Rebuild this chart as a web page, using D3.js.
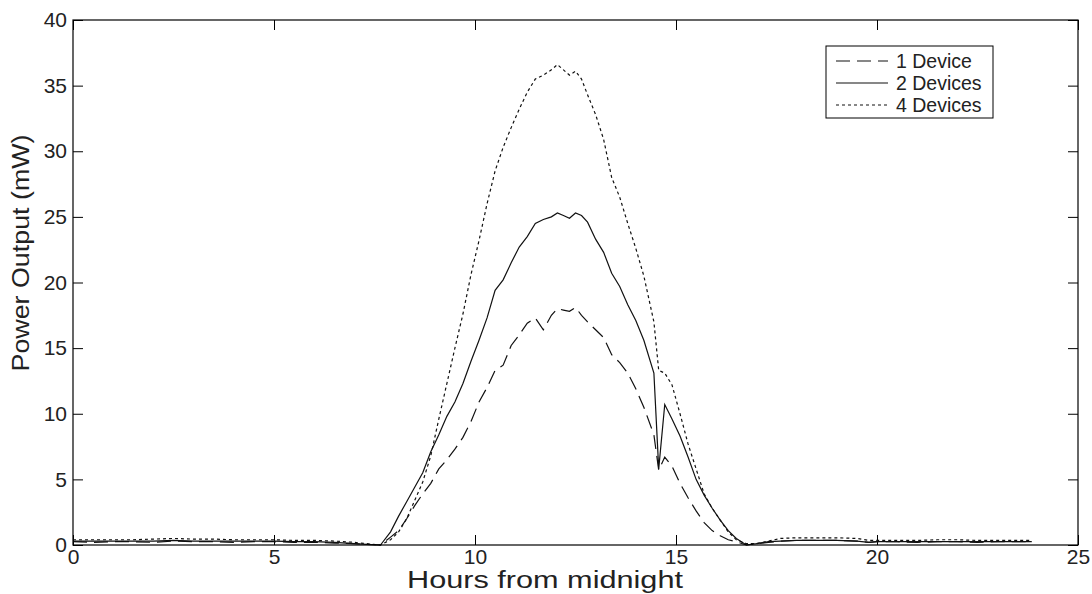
<!DOCTYPE html>
<html>
<head>
<meta charset="utf-8">
<script src="https://cdn.jsdelivr.net/npm/d3@7"></script>
<style>
  body { margin: 0; background: #fff; }
  svg { display: block; font-family: "Liberation Sans", Arial, sans-serif; }
</style>
</head>
<body>
<svg width="1092" height="594"></svg>
<script>
// hours from midnight (sample times)
const hours = [0, 0.5, 1, 1.5, 2, 2.5, 3, 3.5, 4, 4.5, 5, 5.5, 6, 6.5, 7, 7.3, 7.65,
  7.9, 8.1, 8.3, 8.5, 8.7, 8.9, 9.1, 9.3, 9.5, 9.7, 9.9, 10.1, 10.3, 10.5, 10.7, 10.9,
  11.1, 11.3, 11.5, 11.7, 11.9, 12.05, 12.2, 12.35, 12.5, 12.65, 12.8, 13.0, 13.2, 13.4,
  13.6, 13.8, 14.0, 14.2, 14.45, 14.57, 14.72, 14.9, 15.1, 15.3, 15.5, 15.7, 15.9, 16.1,
  16.3, 16.5, 16.75,
  17.0, 17.3, 17.6, 18, 18.5, 19, 19.5, 19.8, 20, 20.5, 21, 21.5, 22, 22.5, 23, 23.5, 23.85];

const oneDevice = [0.25, 0.2, 0.25, 0.25, 0.2, 0.3, 0.25, 0.25, 0.2, 0.25, 0.25, 0.2, 0.2, 0.15, 0.1, 0.05, 0.0,
  0.6, 1.1, 2.0, 3.0, 3.9, 4.7, 5.8, 6.5, 7.3, 8.2, 9.4, 10.9, 12.0, 13.3, 13.7, 15.2,
  16.0, 16.9, 17.3, 16.4, 17.5, 18.0, 17.9, 17.8, 18.1, 17.5, 17.0, 16.4, 15.8, 14.5,
  13.9, 13.1, 11.9, 10.5, 8.4, 5.7, 6.7, 6.0, 4.7, 3.6, 2.6, 1.7, 1.1, 0.7,
  0.4, 0.25, 0.0,
  0.1, 0.2, 0.3, 0.35, 0.35, 0.35, 0.3, 0.2, 0.25, 0.25, 0.2, 0.25, 0.25, 0.2, 0.25, 0.25, 0.25];

const twoDevices = [0.3, 0.3, 0.3, 0.3, 0.3, 0.35, 0.3, 0.3, 0.3, 0.3, 0.3, 0.25, 0.25, 0.2, 0.1, 0.05, 0.0,
  1.0, 2.2, 3.3, 4.4, 5.5, 7.1, 8.4, 9.8, 10.9, 12.3, 14.0, 15.6, 17.3, 19.4, 20.2, 21.5,
  22.7, 23.5, 24.5, 24.8, 25.0, 25.3, 25.1, 24.9, 25.3, 25.1, 24.6, 23.3, 22.3, 20.7,
  19.7, 18.3, 17.1, 15.6, 13.1, 5.8, 10.7, 9.6, 8.3, 6.7, 5.0, 3.8, 2.8, 1.9,
  1.1, 0.5, 0.0,
  0.1, 0.25, 0.3, 0.35, 0.35, 0.35, 0.3, 0.2, 0.25, 0.25, 0.25, 0.25, 0.25, 0.25, 0.25, 0.25, 0.25];

const fourDevices = [0.4, 0.4, 0.4, 0.4, 0.45, 0.5, 0.45, 0.45, 0.4, 0.4, 0.4, 0.35, 0.35, 0.3, 0.2, 0.1, 0.0,
  0.4, 1.0, 2.0, 3.4, 4.8, 6.8, 9.6, 12.3, 15.0, 17.6, 20.6, 23.2, 26.0, 28.5, 30.3, 31.8,
  33.2, 34.5, 35.5, 35.8, 36.2, 36.6, 36.2, 35.8, 36.1, 35.5, 34.3, 32.8, 30.9, 28.0,
  26.5, 24.5, 22.6, 20.5, 17.0, 13.3, 13.1, 12.2, 10.0, 7.7, 5.8, 3.9, 2.8, 1.9,
  1.0, 0.4, 0.1,
  0.1, 0.3, 0.5, 0.55, 0.55, 0.55, 0.5, 0.35, 0.35, 0.35, 0.35, 0.4, 0.4, 0.35, 0.35, 0.35, 0.35];

const seriesNames = ["1 Device", "2 Devices", "4 Devices"];
const seriesDash = ["14,7", null, "3,3"];
const xTicks = [0, 5, 10, 15, 20, 25];
const yTicks = [0, 5, 10, 15, 20, 25, 30, 35, 40];

const svg = d3.select("svg");
const margin = {left: 73, top: 20, right: 14, bottom: 49};
const W = 1092, H = 594;
const x = d3.scaleLinear().domain([0, 25]).range([margin.left, W - margin.right]);
const y = d3.scaleLinear().domain([0, 40]).range([H - margin.bottom, margin.top]);

const allSeries = [oneDevice, twoDevices, fourDevices];

// ticks point inwards, mirrored on top and right like matlab's box
const tickLen = 10;
const g = svg.append("g");
const xa = g.append("g").attr("transform", `translate(0,${y(0)})`)
  .call(d3.axisBottom(x).tickValues(xTicks).tickSizeInner(-tickLen).tickSizeOuter(0).tickPadding(3));
g.append("g").attr("transform", `translate(0,${y(40)})`)
  .call(d3.axisTop(x).tickValues(xTicks).tickSizeInner(-tickLen).tickSizeOuter(0).tickFormat(""));
g.append("g").attr("transform", `translate(${x(0)},0)`)
  .call(d3.axisLeft(y).tickValues(yTicks).tickSizeInner(-tickLen).tickSizeOuter(0).tickPadding(6));
g.append("g").attr("transform", `translate(${x(25)},0)`)
  .call(d3.axisRight(y).tickValues(yTicks).tickSizeInner(-tickLen).tickSizeOuter(0).tickFormat(""));

g.selectAll(".domain").remove();
g.selectAll(".tick line").attr("stroke", "#000");
g.selectAll(".tick text").attr("fill", "#222").style("font-size", "21px");
xa.selectAll(".tick text").attr("dy", "0.75em");

// curves
const line = d3.line().x((d, i) => x(hours[i])).y(d => y(d));
allSeries.forEach((s, k) => {
  svg.append("path")
    .datum(s)
    .attr("fill", "none")
    .attr("stroke", "#111")
    .attr("stroke-width", 1.2)
    .attr("stroke-dasharray", seriesDash[k])
    .attr("d", line);
});

// box
svg.append("rect")
  .attr("x", x(0)).attr("y", y(40))
  .attr("width", x(25) - x(0)).attr("height", y(0) - y(40))
  .attr("fill", "none").attr("stroke", "#000").attr("stroke-width", 1.2);

// axis labels
svg.append("text")
  .attr("x", 545).attr("y", 588)
  .attr("text-anchor", "middle")
  .attr("fill", "#222")
  .attr("textLength", 276).attr("lengthAdjust", "spacingAndGlyphs")
  .style("font-size", "23px")
  .text("Hours from midnight");

svg.append("text")
  .attr("transform", "translate(29,253) rotate(-90)")
  .attr("text-anchor", "middle")
  .attr("fill", "#222")
  .attr("textLength", 237).attr("lengthAdjust", "spacingAndGlyphs")
  .style("font-size", "23px")
  .text("Power Output (mW)");

// legend
const lg = svg.append("g").attr("transform", "translate(826,46)");
lg.append("rect").attr("width", 167).attr("height", 72)
  .attr("fill", "#fff").attr("stroke", "#000").attr("stroke-width", 1);
seriesNames.forEach((name, k) => {
  const ly = 15 + k * 22;
  lg.append("line").attr("x1", 10).attr("x2", 62).attr("y1", ly).attr("y2", ly)
    .attr("stroke", "#111").attr("stroke-width", 1.2)
    .attr("stroke-dasharray", seriesDash[k]);
  lg.append("text").attr("x", 70).attr("y", ly).attr("dy", "0.35em")
    .attr("fill", "#222").style("font-size", "19.5px").text(name);
});
</script>
</body>
</html>
